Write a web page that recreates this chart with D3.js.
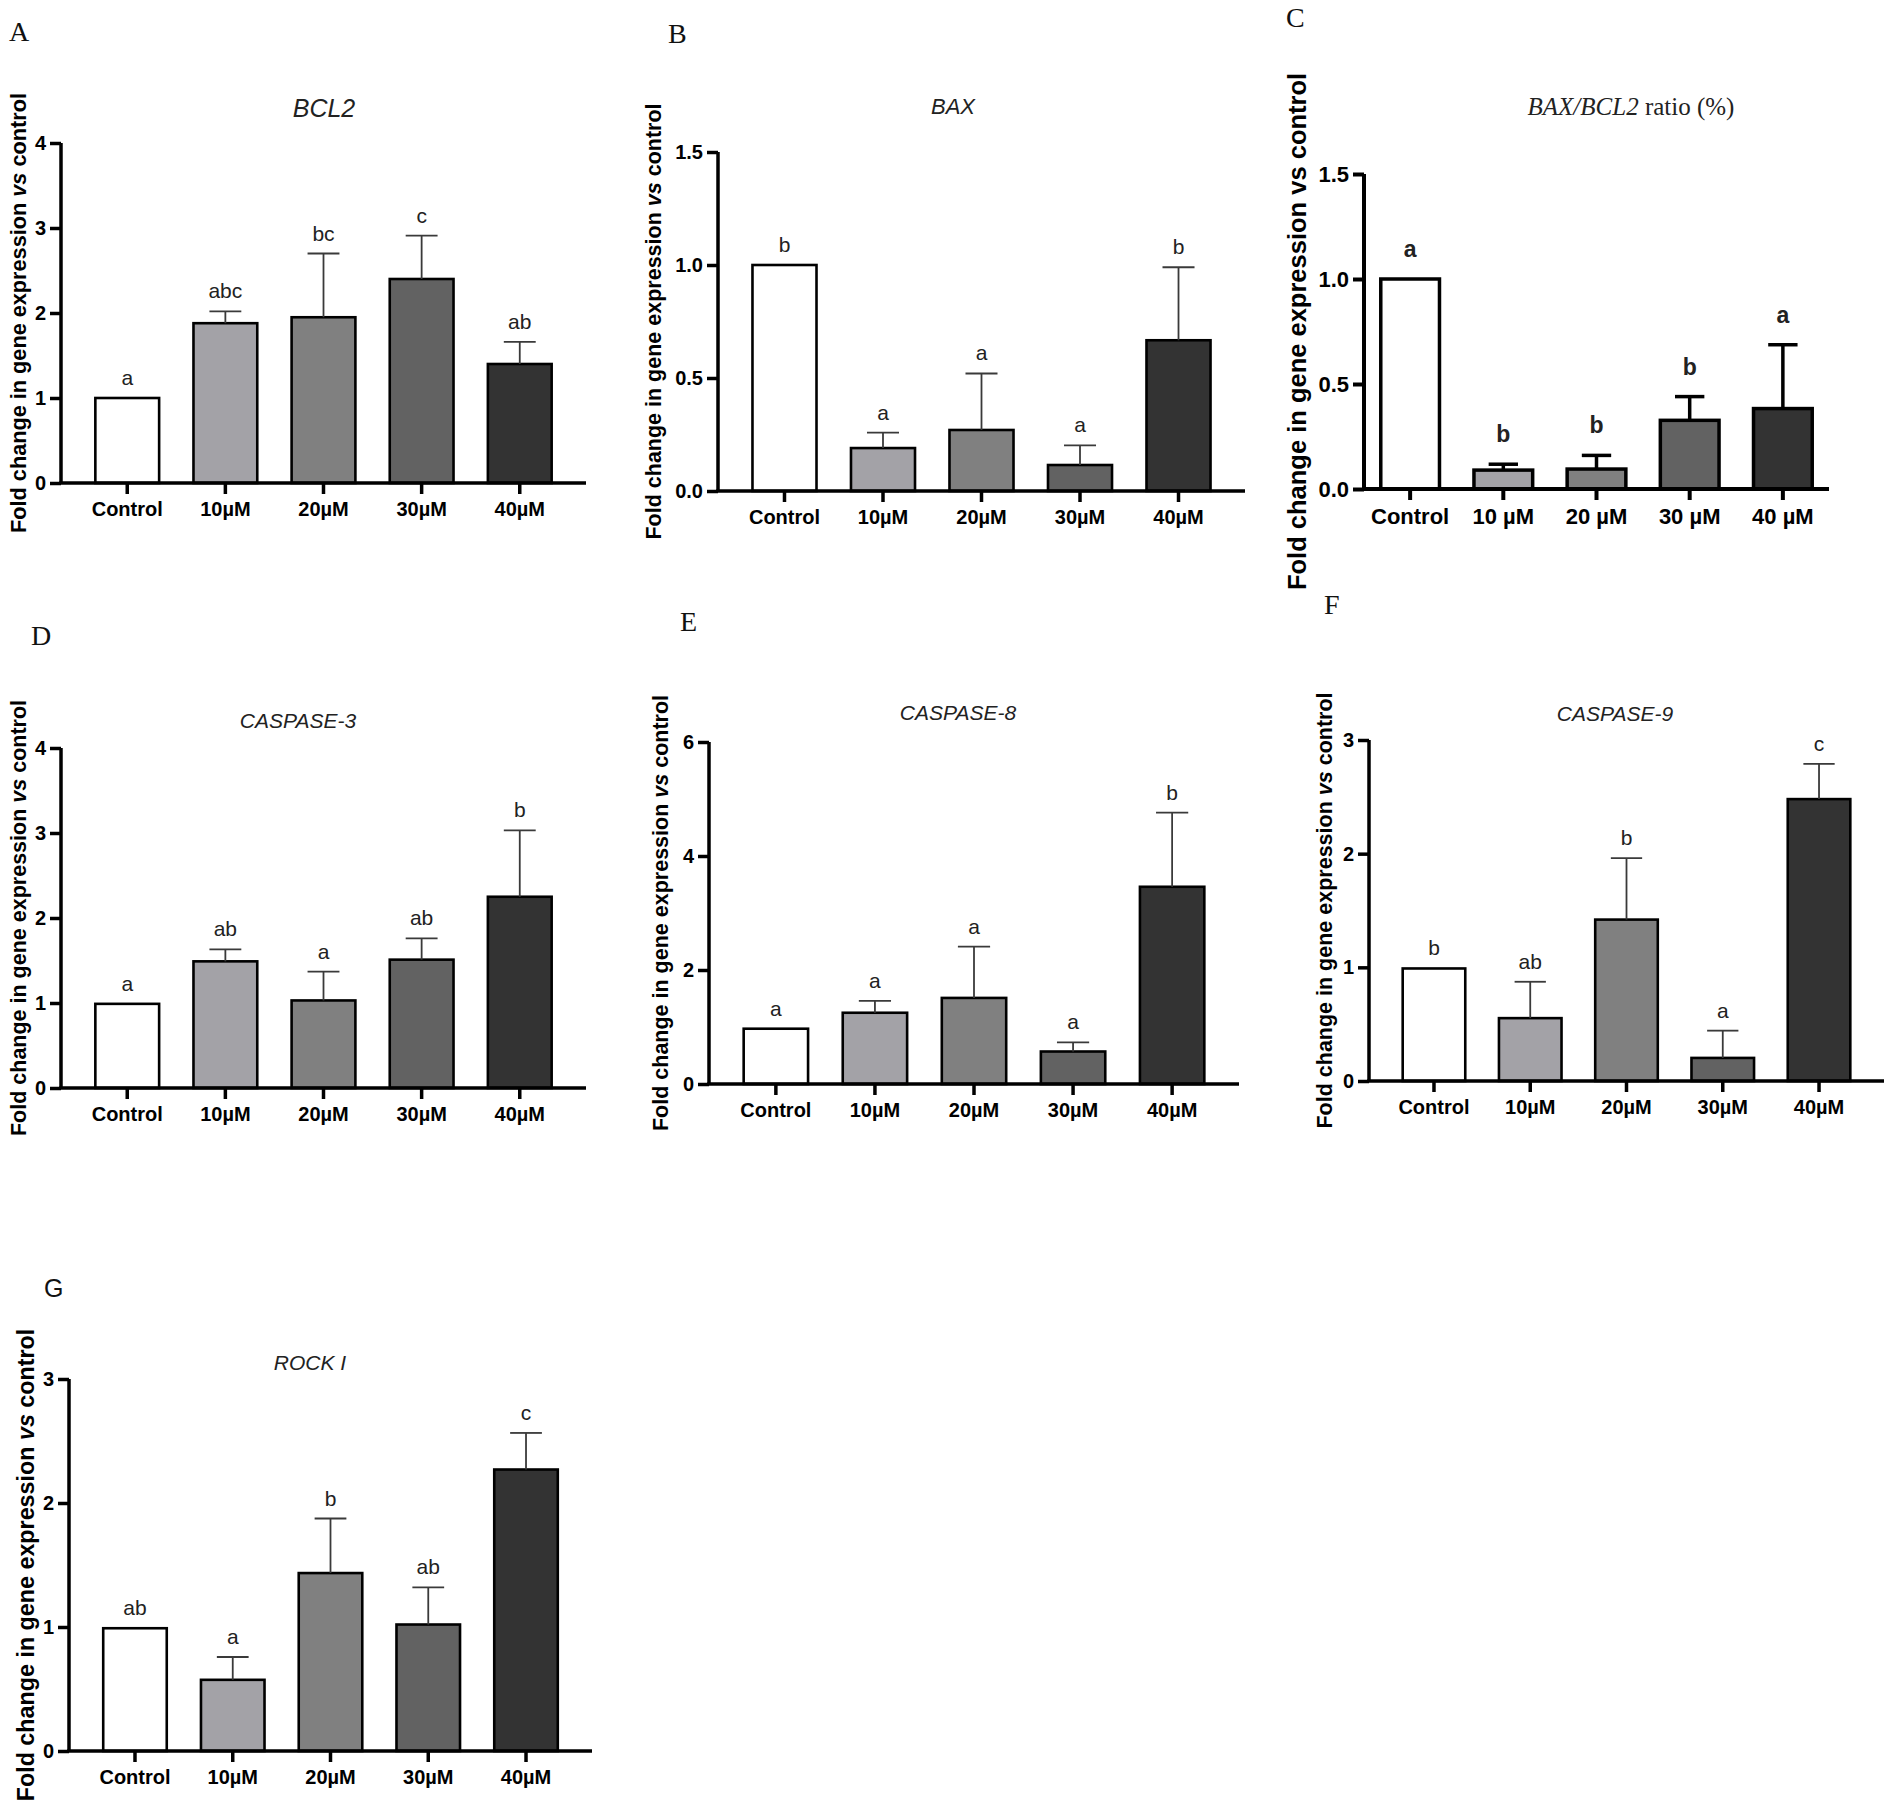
<!DOCTYPE html>
<html>
<head>
<meta charset="utf-8">
<script src="https://cdn.jsdelivr.net/npm/d3@7"></script>
<style>
  body { margin: 0; background: #fff; }
  svg { display: block; font-family: "Liberation Sans", Arial, sans-serif; }
</style>
</head>
<body>
<svg id="fig" width="1902" height="1806"></svg>
<script>
// groups on the x axis
const groups = ['Control', '10µM', '20µM', '30µM', '40µM']
const groupsSpaced = ['Control', '10 µM', '20 µM', '30 µM', '40 µM']
const barFills = ['#ffffff', '#a3a2a7', '#808080', '#626262', '#333333']

// A - BCL2
const bcl2Mean = [1.0, 1.88, 1.95, 2.40, 1.40]
const bcl2Err = [0, 0.14, 0.75, 0.51, 0.26]
const bcl2Letters = ['a', 'abc', 'bc', 'c', 'ab']
const bcl2Ticks = [0, 1, 2, 3, 4]

// B - BAX
const baxMean = [1.0, 0.19, 0.27, 0.115, 0.667]
const baxErr = [0, 0.068, 0.25, 0.087, 0.323]
const baxLetters = ['b', 'a', 'a', 'a', 'b']
const baxTicks = [0, 0.5, 1.0, 1.5]

// C - BAX/BCL2 ratio
const ratioMean = [1.0, 0.09, 0.095, 0.327, 0.383]
const ratioErr = [0, 0.028, 0.065, 0.113, 0.304]
const ratioLetters = ['a', 'b', 'b', 'b', 'a']
const ratioTicks = [0, 0.5, 1.0, 1.5]

// D - CASPASE-3
const casp3Mean = [0.99, 1.49, 1.03, 1.51, 2.25]
const casp3Err = [0, 0.14, 0.34, 0.25, 0.78]
const casp3Letters = ['a', 'ab', 'a', 'ab', 'b']
const casp3Ticks = [0, 1, 2, 3, 4]

// E - CASPASE-8
const casp8Mean = [0.97, 1.25, 1.51, 0.57, 3.46]
const casp8Err = [0, 0.21, 0.90, 0.16, 1.30]
const casp8Letters = ['a', 'a', 'a', 'a', 'b']
const casp8Ticks = [0, 2, 4, 6]

// F - CASPASE-9
const casp9Mean = [0.99, 0.553, 1.42, 0.203, 2.48]
const casp9Err = [0, 0.32, 0.54, 0.24, 0.31]
const casp9Letters = ['b', 'ab', 'b', 'a', 'c']
const casp9Ticks = [0, 1, 2, 3]

// G - ROCK I
const rockMean = [0.99, 0.574, 1.435, 1.02, 2.27]
const rockErr = [0, 0.184, 0.44, 0.30, 0.295]
const rockLetters = ['ab', 'a', 'b', 'ab', 'c']
const rockTicks = [0, 1, 2, 3]

const SANS = '"Liberation Sans", Arial, sans-serif'
const SERIF = '"Liberation Serif", "Times New Roman", serif'

const svg = d3.select('#fig')

// one bar panel, GraphPad style
function panel(o) {
  const g = svg.append('g')
  const big = !!o.big
  const tickFs = big ? 22 : 20
  const axisW = big ? 4 : 3.5

  const x = d3.scaleBand()
    .domain(o.cats)
    .range([o.x0, o.x1])
    .paddingInner(o.pin || 0.35)
    .paddingOuter(o.pout || 0.35)
  const y = d3.scaleLinear().domain([0, d3.max(o.ticks)]).range([o.y0, o.yTop])

  const rows = o.cats.map((c, i) => ({ c, m: o.mean[i], e: o.err[i], l: o.letters[i], f: barFills[i] }))

  // bars
  g.selectAll('rect.bar')
    .data(rows)
    .join('rect')
    .attr('class', 'bar')
    .attr('x', d => x(d.c))
    .attr('y', d => y(d.m))
    .attr('width', x.bandwidth())
    .attr('height', d => y(0) - y(d.m))
    .attr('fill', d => d.f)
    .attr('stroke', '#000')
    .attr('stroke-width', big ? 3.5 : 2.6)

  // upper error bars
  const eb = rows.filter(d => d.e > 0)
  const cap = x.bandwidth() / 4
  const errColor = big ? '#000' : '#3a3a3a'
  const errW = big ? 3.5 : 1.8
  g.selectAll('line.err')
    .data(eb)
    .join('line')
    .attr('x1', d => x(d.c) + x.bandwidth() / 2)
    .attr('x2', d => x(d.c) + x.bandwidth() / 2)
    .attr('y1', d => y(d.m))
    .attr('y2', d => y(d.m + d.e))
    .attr('stroke', errColor)
    .attr('stroke-width', errW)
  g.selectAll('line.cap')
    .data(eb)
    .join('line')
    .attr('x1', d => x(d.c) + x.bandwidth() / 2 - cap)
    .attr('x2', d => x(d.c) + x.bandwidth() / 2 + cap)
    .attr('y1', d => y(d.m + d.e))
    .attr('y2', d => y(d.m + d.e))
    .attr('stroke', errColor)
    .attr('stroke-width', errW)

  // significance letters
  g.selectAll('text.sig')
    .data(rows)
    .join('text')
    .attr('x', d => x(d.c) + x.bandwidth() / 2)
    .attr('y', d => y(d.m + d.e) - (big ? 22 : 13))
    .attr('text-anchor', 'middle')
    .attr('font-size', big ? 23 : 21)
    .attr('font-weight', big ? 'bold' : 'normal')
    .attr('fill', '#222')
    .text(d => d.l)

  // y axis
  const yAxis = d3.axisLeft(y)
    .tickValues(o.ticks)
    .tickSize(11)
    .tickPadding(4)
    .tickFormat(o.fmt || d3.format('d'))
  const ya = g.append('g').attr('transform', `translate(${o.x0},0)`).call(yAxis)
  ya.select('.domain').attr('d', `M0,${o.y0}V${o.yTop}`).attr('stroke-width', axisW)
  ya.selectAll('.tick line').attr('stroke-width', axisW)
  ya.selectAll('.tick text')
    .attr('font-size', tickFs)
    .attr('font-weight', 'bold')
    .attr('font-family', SANS)
    .attr('fill', '#000')

  // x axis
  const xAxis = d3.axisBottom(x).tickSize(11).tickSizeOuter(0).tickPadding(8)
  const xa = g.append('g').attr('transform', `translate(0,${o.y0})`).call(xAxis)
  xa.select('.domain').attr('d', `M${o.x0 - axisW / 2},0H${o.x1}`).attr('stroke-width', axisW)
  xa.selectAll('.tick line').attr('stroke-width', axisW)
  xa.selectAll('.tick text')
    .attr('font-size', tickFs)
    .attr('font-weight', 'bold')
    .attr('font-family', SANS)
    .attr('fill', '#000')

  // y axis title
  const yl = g.append('text')
    .attr('transform', `translate(${o.ylx},${(o.y0 + o.yTop) / 2}) rotate(-90)`)
    .attr('text-anchor', 'middle')
    .attr('dominant-baseline', 'central')
    .attr('font-size', o.ylfs || 21.5)
    .attr('font-weight', 'bold')
  yl.append('tspan').text('Fold change in gene expression ')
  yl.append('tspan').attr('font-style', big ? 'normal' : 'italic').text('vs')
  yl.append('tspan').text(' control')

  // chart title
  if (o.serifTitle) {
    const t = g.append('text')
      .attr('x', o.tx).attr('y', o.ty)
      .attr('text-anchor', 'middle')
      .attr('dominant-baseline', 'central')
      .attr('font-family', SERIF)
      .attr('font-size', 25)
      .attr('fill', '#222')
    t.append('tspan').attr('font-style', 'italic').text('BAX/BCL2')
    t.append('tspan').text(' ratio (%)')
  } else {
    g.append('text')
      .attr('x', o.tx).attr('y', o.ty)
      .attr('text-anchor', 'middle')
      .attr('dominant-baseline', 'central')
      .attr('font-style', 'italic')
      .attr('font-size', o.tfs || 21)
      .attr('fill', '#222')
      .text(o.title)
  }

  // panel letter
  g.append('text')
    .attr('x', o.lx).attr('y', o.ly)
    .attr('dominant-baseline', 'central')
    .attr('font-family', o.sansLetter ? SANS : SERIF)
    .attr('font-size', o.sansLetter ? 25 : 28)
    .attr('fill', '#111')
    .text(o.letter)
}

panel({ letter: 'A', lx: 9, ly: 31, title: 'BCL2', tfs: 25, tx: 324, ty: 108,
  cats: groups, mean: bcl2Mean, err: bcl2Err, letters: bcl2Letters, ticks: bcl2Ticks,
  x0: 61, x1: 586, y0: 483, yTop: 143, ylx: 18, ylfs: 21.7 })

panel({ letter: 'B', lx: 668, ly: 33, title: 'BAX', tfs: 22, tx: 953, ty: 106,
  cats: groups, mean: baxMean, err: baxErr, letters: baxLetters, ticks: baxTicks, fmt: d3.format('.1f'),
  x0: 718, x1: 1245, y0: 491, yTop: 152, ylx: 654 })

panel({ letter: 'C', lx: 1286, ly: 17, serifTitle: true, tx: 1631, ty: 106, big: true,
  cats: groupsSpaced, mean: ratioMean, err: ratioErr, letters: ratioLetters, ticks: ratioTicks, fmt: d3.format('.1f'),
  x0: 1364, x1: 1829, y0: 489, yTop: 174, ylx: 1297, ylfs: 25.5, pin: 0.37, pout: 0.18 })

panel({ letter: 'D', lx: 31, ly: 635, title: 'CASPASE-3', tx: 298, ty: 720,
  cats: groups, mean: casp3Mean, err: casp3Err, letters: casp3Letters, ticks: casp3Ticks,
  x0: 61, x1: 586, y0: 1088, yTop: 748, ylx: 19 })

panel({ letter: 'E', lx: 680, ly: 621, title: 'CASPASE-8', tx: 958, ty: 712,
  cats: groups, mean: casp8Mean, err: casp8Err, letters: casp8Letters, ticks: casp8Ticks,
  x0: 709, x1: 1239, y0: 1084, yTop: 742, ylx: 661 })

panel({ letter: 'F', lx: 1324, ly: 604, title: 'CASPASE-9', tx: 1615, ty: 713,
  cats: groups, mean: casp9Mean, err: casp9Err, letters: casp9Letters, ticks: casp9Ticks,
  x0: 1369, x1: 1884, y0: 1081, yTop: 740, ylx: 1325 })

panel({ letter: 'G', lx: 44, ly: 1288, sansLetter: true, title: 'ROCK I', tx: 310, ty: 1362,
  cats: groups, mean: rockMean, err: rockErr, letters: rockLetters, ticks: rockTicks,
  x0: 69, x1: 592, y0: 1751, yTop: 1379, ylx: 26, ylfs: 23.3 })
</script>
</body>
</html>
